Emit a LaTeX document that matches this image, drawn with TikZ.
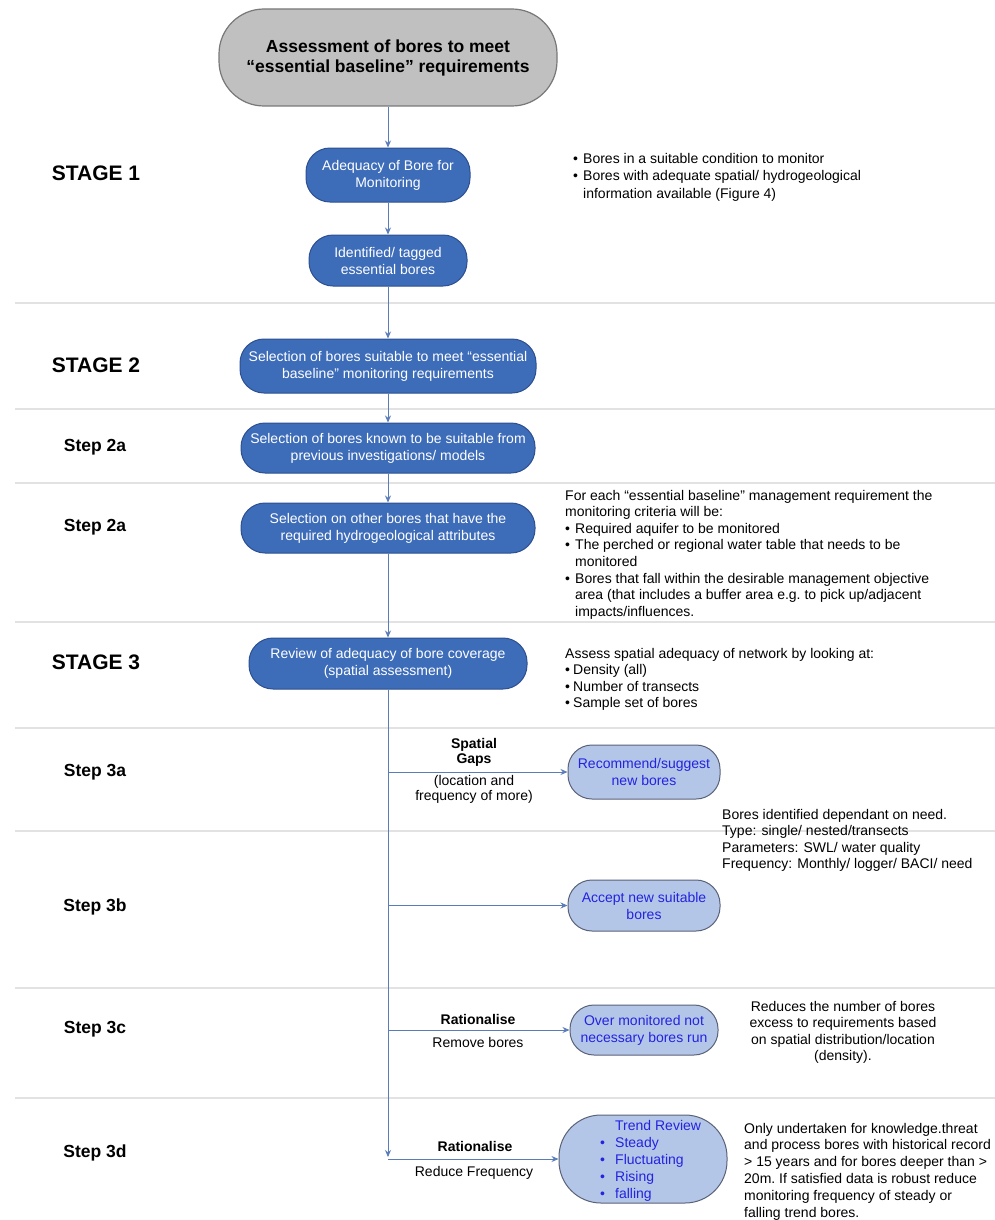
\documentclass[tikz,border=0pt]{standalone}
\usepackage{fontspec}
\setmainfont{Liberation Sans}
\usetikzlibrary{arrows.meta}
\definecolor{dkfill}{RGB}{61,108,185}
\definecolor{dkdraw}{RGB}{45,80,145}
\definecolor{ltfill}{RGB}{180,198,231}
\definecolor{ltdraw}{RGB}{90,98,120}
\definecolor{lttext}{RGB}{35,35,225}
\definecolor{conncol}{RGB}{90,125,185}
\definecolor{sepcol}{RGB}{226,226,226}
\definecolor{termfill}{RGB}{192,192,192}
\definecolor{termdraw}{RGB}{120,120,120}
\newcommand\bul{\makebox[10pt][l]{•}}
\newcommand\bulb{\makebox[8pt][l]{•}}
\begin{document}
\begin{tikzpicture}[x=1pt,y=-1pt,
  dkbox/.style={draw=dkdraw, fill=dkfill, line width=1pt, rounded corners=24pt, text=white, align=center, inner sep=0pt, font=\fontsize{14}{17}\selectfont},
  ltbox/.style={draw=ltdraw, fill=ltfill, line width=1pt, rounded corners=24pt, text=lttext, align=center, inner sep=0pt, font=\fontsize{14}{17}\selectfont},
  termbox/.style={draw=termdraw, fill=termfill, line width=1.2pt, rounded corners=45pt, align=center, inner sep=0pt, font=\fontsize{17.5}{20}\selectfont\bfseries},
  stagelbl/.style={font=\fontsize{21}{24}\selectfont\bfseries, inner sep=0pt},
  steplbl/.style={font=\fontsize{17.5}{20}\selectfont\bfseries, inner sep=0pt},
  rtext/.style={anchor=north west, align=left, inner sep=0pt, font=\fontsize{14}{16.6}\selectfont},
  brlbl/.style={inner sep=0pt, font=\fontsize{14}{16}\selectfont},
  conn/.style={draw=conncol, line width=0.9pt, -{Stealth[length=7pt,width=6pt]}},
  sepline/.style={draw=sepcol, line width=2.8pt}
]
\useasboundingbox (0,0) rectangle (995,1220);
\fill[white] (0,0) rectangle (995,1220);

% separators
\foreach \yy in {303,409,483,622,728,831,988,1098}
  \draw[sepline] (15,\yy) -- (995,\yy);

% stage labels
\node[stagelbl] (s1) at (96,173) {STAGE 1};
\node[stagelbl] (s2) at (96,365) {STAGE 2};
\node[steplbl] (s2a) at (95,447) {Step 2a};
\node[steplbl] (s2b) at (95,527) {Step 2a};
\node[stagelbl] (s3) at (96,662) {STAGE 3};
\node[steplbl] (s3a) at (95,772) {Step 3a};
\node[steplbl] (s3b) at (95,907) {Step 3b};
\node[steplbl] (s3c) at (95,1029) {Step 3c};
\node[steplbl] (s3d) at (95,1153) {Step 3d};

% main flow
\node[termbox, minimum width=338pt, minimum height=97pt] (t) at (388,57.5) {Assessment of bores to meet\\“essential baseline” requirements};
\node[dkbox, minimum width=164pt, minimum height=54pt] (b1) at (388,175) {Adequacy of Bore for\\Monitoring};
\node[dkbox, minimum width=158pt, minimum height=51pt] (b2) at (388,260.5) {Identified/ tagged\\essential bores};
\node[dkbox, minimum width=296pt, minimum height=54pt] (b3) at (388,366) {Selection of bores suitable to meet “essential\\baseline” monitoring requirements};
\node[dkbox, minimum width=294pt, minimum height=50pt] (b4) at (388,448) {Selection of bores known to be suitable from\\previous investigations/ models};
\node[dkbox, minimum width=294pt, minimum height=50pt] (b5) at (388,528) {Selection on other bores that have the\\required hydrogeological attributes};
\node[dkbox, minimum width=278pt, minimum height=51pt] (b6) at (388,663.5) {Review of adequacy of bore coverage\\(spatial assessment)};

\draw[conn] (t) -- (b1);
\draw[conn] (b1) -- (b2);
\draw[conn] (b2) -- (b3);
\draw[conn] (b3) -- (b4);
\draw[conn] (b4) -- (b5);
\draw[conn] (b5) -- (b6);

% branch boxes
\node[ltbox, minimum width=152pt, minimum height=54pt] (rec) at (644,772) {Recommend/suggest\\new bores};
\node[ltbox, minimum width=152pt, minimum height=51pt] (acc) at (644,905.5) {Accept new suitable\\bores};
\node[ltbox, minimum width=148pt, minimum height=50pt] (over) at (644,1030) {Over monitored not\\necessary bores run};
\node[ltbox, minimum width=168pt, minimum height=88pt, rounded corners=42pt] (trend) at (643,1159) {};
\node[rtext, text=lttext, font=\fontsize{14}{17}\selectfont] (trendtxt) at (600,1119.8) {\hspace*{15pt}Trend Review\\\makebox[15pt][l]{•}Steady\\\makebox[15pt][l]{•}Fluctuating\\\makebox[15pt][l]{•}Rising\\\makebox[15pt][l]{•}falling};

% trunk and branches
\coordinate (j1) at (388,772);
\coordinate (j2) at (388,905.5);
\coordinate (j3) at (388,1030);
\coordinate (jend) at (388,1157);
\coordinate (j4) at (388,1159);
\draw[conn] (b6) -- (jend);
\draw[conn] (j1) -- (rec.west);
\draw[conn] (j2) -- (acc.west);
\draw[conn] (j3) -- (over.west);
\draw[conn] (j4) -- (trend.west);

% branch labels
\node[brlbl, font=\fontsize{14}{16}\selectfont\bfseries] (lsg1) at (474,745) {Spatial};
\node[brlbl, font=\fontsize{14}{16}\selectfont\bfseries] (lsg2) at (474,760) {Gaps};
\node[brlbl] (lsg3) at (474,782) {(location and};
\node[brlbl] (lsg4) at (474,797) {frequency of more)};
\node[brlbl, font=\fontsize{14}{16}\selectfont\bfseries] (lr1) at (478,1019) {Rationalise};
\node[brlbl] (lr2) at (478,1042) {Remove bores};
\node[brlbl, font=\fontsize{14}{16}\selectfont\bfseries] (lr3) at (475,1146) {Rationalise};
\node[brlbl] (lr4) at (474,1173) {Reduce Frequency};

% side notes
\node[rtext, font=\fontsize{14}{17.5}\selectfont] (n1) at (573,152.8) {\bul Bores in a suitable condition to monitor\\\bul Bores with adequate spatial/ hydrogeological\\\hspace*{10pt}information available (Figure 4)};
\node[rtext] (n2) at (565,489.8) {For each “essential baseline” management requirement the\\monitoring criteria will be:\\\bul Required aquifer to be monitored\\\bul The perched or regional water table that needs to be\\\hspace*{10pt}monitored\\\bul Bores that fall within the desirable management objective\\\hspace*{10pt}area (that includes a buffer area e.g.\ to pick up/adjacent\\\hspace*{10pt}impacts/influences.};
\node[rtext] (n3) at (565,647.8) {Assess spatial adequacy of network by looking at:\\\bulb Density (all)\\\bulb Number of transects\\\bulb Sample set of bores};
\node[rtext] (n4) at (722,808.8) {Bores identified dependant on need.\\Type: single/ nested/transects\\Parameters: SWL/ water quality\\Frequency: Monthly/ logger/ BACI/ need};
\node[rtext, anchor=north, align=center] (n5) at (843,1000.8) {Reduces the number of bores\\excess to requirements based\\on spatial distribution/location\\(density).};
\node[rtext, font=\fontsize{14}{16.8}\selectfont] (n6) at (744,1122.8) {Only undertaken for knowledge.threat\\and process bores with historical record\\> 15 years and for bores deeper than >\\20m.\ If satisfied data is robust reduce\\monitoring frequency of steady or\\falling trend bores.};
\end{tikzpicture}
\end{document}
